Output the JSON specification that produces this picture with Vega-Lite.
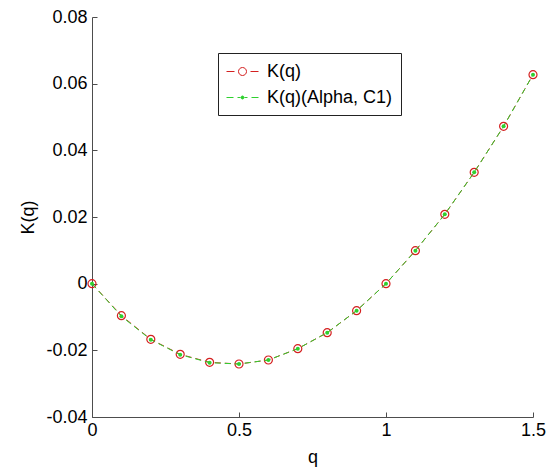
{
  "$schema": "https://vega.github.io/schema/vega-lite/v6.json",
  "width": 441,
  "height": 400,
  "autosize": {"type": "none"},
  "padding": {"left": 92, "top": 17, "right": 19, "bottom": 52},
  "background": "white",
  "config": {
    "view": {"stroke": null},
    "font": "Liberation Sans",
    "axis": {
      "grid": false,
      "domainColor": "#4d4d4d",
      "tickColor": "#4d4d4d",
      "domainWidth": 1,
      "tickWidth": 1,
      "ticks": true,
      "tickSize": -5,
      "labelColor": "black",
      "labelFont": "Liberation Sans",
      "labelFontSize": 18,
      "titleFont": "Liberation Sans",
      "titleFontSize": 18,
      "titleFontWeight": "normal",
      "titleColor": "black",
      "labelFlush": false,
      "labelOverlap": false
    },
    "legend": {
      "labelFont": "Liberation Sans",
      "labelFontSize": 18,
      "labelColor": "black"
    }
  },
  "data": {
    "values": [
      {"q": 0.0, "K": 0.0, "series": "K(q)"},
      {"q": 0.1, "K": -0.0096, "series": "K(q)"},
      {"q": 0.2, "K": -0.0167, "series": "K(q)"},
      {"q": 0.3, "K": -0.0212, "series": "K(q)"},
      {"q": 0.4, "K": -0.0236, "series": "K(q)"},
      {"q": 0.5, "K": -0.0241, "series": "K(q)"},
      {"q": 0.6, "K": -0.0229, "series": "K(q)"},
      {"q": 0.7, "K": -0.0195, "series": "K(q)"},
      {"q": 0.8, "K": -0.0147, "series": "K(q)"},
      {"q": 0.9, "K": -0.0081, "series": "K(q)"},
      {"q": 1.0, "K": 0.0, "series": "K(q)"},
      {"q": 1.1, "K": 0.0099, "series": "K(q)"},
      {"q": 1.2, "K": 0.0208, "series": "K(q)"},
      {"q": 1.3, "K": 0.0334, "series": "K(q)"},
      {"q": 1.4, "K": 0.0472, "series": "K(q)"},
      {"q": 1.5, "K": 0.0627, "series": "K(q)"},
      {"q": 0.0, "K": 0.0, "series": "K(q)(Alpha, C1)"},
      {"q": 0.1, "K": -0.0098, "series": "K(q)(Alpha, C1)"},
      {"q": 0.2, "K": -0.0168, "series": "K(q)(Alpha, C1)"},
      {"q": 0.3, "K": -0.0213, "series": "K(q)(Alpha, C1)"},
      {"q": 0.4, "K": -0.0237, "series": "K(q)(Alpha, C1)"},
      {"q": 0.5, "K": -0.0241, "series": "K(q)(Alpha, C1)"},
      {"q": 0.6, "K": -0.0229, "series": "K(q)(Alpha, C1)"},
      {"q": 0.7, "K": -0.0195, "series": "K(q)(Alpha, C1)"},
      {"q": 0.8, "K": -0.0147, "series": "K(q)(Alpha, C1)"},
      {"q": 0.9, "K": -0.0081, "series": "K(q)(Alpha, C1)"},
      {"q": 1.0, "K": 0.0, "series": "K(q)(Alpha, C1)"},
      {"q": 1.1, "K": 0.0099, "series": "K(q)(Alpha, C1)"},
      {"q": 1.2, "K": 0.0208, "series": "K(q)(Alpha, C1)"},
      {"q": 1.3, "K": 0.0334, "series": "K(q)(Alpha, C1)"},
      {"q": 1.4, "K": 0.0472, "series": "K(q)(Alpha, C1)"},
      {"q": 1.5, "K": 0.0627, "series": "K(q)(Alpha, C1)"}
    ]
  },
  "encoding": {
    "x": {
      "field": "q",
      "type": "quantitative",
      "scale": {"domain": [0, 1.5], "nice": false, "zero": false},
      "axis": {
        "title": "q",
        "values": [0, 0.5, 1, 1.5],
        "format": "~g",
        "labelPadding": 9,
        "titleX": 220.5,
        "titleY": 45,
        "titleBaseline": "alphabetic",
        "titleAlign": "center"
      }
    },
    "y": {
      "field": "K",
      "type": "quantitative",
      "scale": {"domain": [-0.04, 0.08], "nice": false, "zero": false},
      "axis": {
        "title": "K(q)",
        "values": [-0.04, -0.02, 0, 0.02, 0.04, 0.06, 0.08],
        "labelExpr": "datum.value < 0 ? '-' + format(-datum.value, '~g') : format(datum.value, '~g')",
        "labelPadding": 10,
        "titleX": -64,
        "titleY": 200,
        "titleAngle": -90,
        "titleBaseline": "middle",
        "titleAlign": "center"
      }
    },
    "color": {
      "field": "series",
      "type": "nominal",
      "scale": {"domain": ["K(q)", "K(q)(Alpha, C1)"], "range": ["#d42020", "#2ed12e"]},
      "legend": {
        "orient": "none",
        "legendX": 126,
        "legendY": 36,
        "title": null,
        "strokeColor": "#222222",
        "fillColor": "white",
        "padding": 8,
        "rowPadding": 6,
        "symbolSize": 400,
        "symbolOffset": 6,
        "labelOffset": 14,
        "symbolStrokeWidth": 1,
        "encode": {
          "symbols": {
            "update": {
              "shape": {"signal": "datum.value == 'K(q)' ? 'M-1.6,0H-0.8M-0.4,0A0.4,0.4 0 1,0 0.4,0A0.4,0.4 0 1,0 -0.4,0M0.8,0H1.6' : 'M-1.6,0H-0.9M-0.5,0H-0.2M0.2,0H0.5M0.9,0H1.6M-0.15,0A0.15,0.15 0 1,0 0.15,0A0.15,0.15 0 1,0 -0.15,0'"},
              "fill": {"signal": "datum.value == 'K(q)' ? 'white' : '#2ed12e'"},
              "fillOpacity": {"signal": "datum.value == 'K(q)' ? 0 : 1"},
              "stroke": {"signal": "datum.value == 'K(q)' ? '#d42020' : '#2ed12e'"},
              "strokeWidth": {"value": 1},
              "opacity": {"value": 1}
            }
          }
        }
      }
    }
  },
  "layer": [
    {
      "transform": [{"filter": "datum.series == 'K(q)'"}],
      "mark": {"type": "line", "strokeWidth": 1, "strokeDash": [6, 4]}
    },
    {
      "transform": [{"filter": "datum.series == 'K(q)'"}],
      "mark": {"type": "point", "filled": false, "size": 64, "strokeWidth": 1.2, "opacity": 1}
    },
    {
      "transform": [{"filter": "datum.series != 'K(q)'"}],
      "mark": {"type": "line", "strokeWidth": 1, "strokeDash": [6, 4]}
    },
    {
      "transform": [{"filter": "datum.series != 'K(q)'"}],
      "mark": {"type": "point", "filled": true, "size": 16, "opacity": 1}
    }
  ]
}
